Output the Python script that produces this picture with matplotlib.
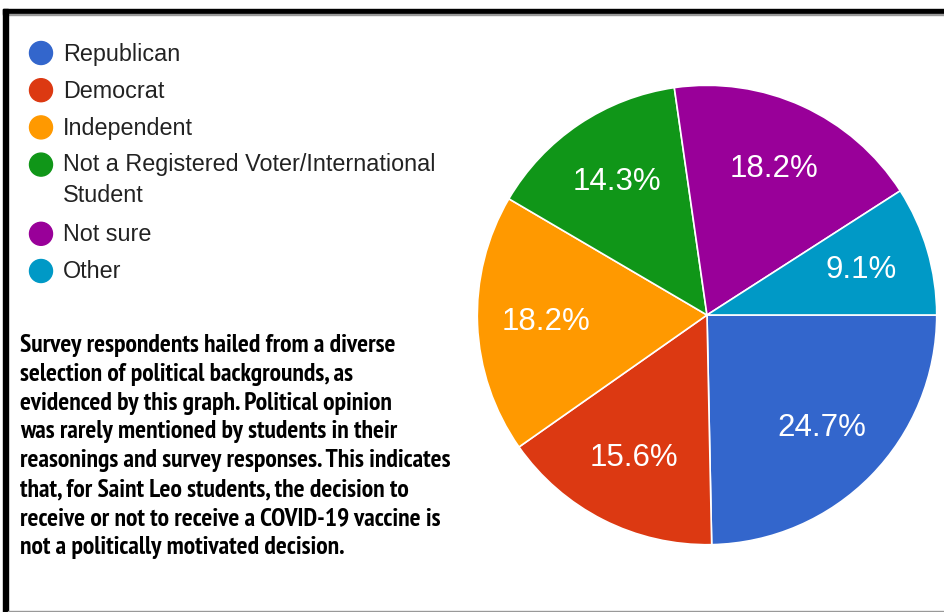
import matplotlib
matplotlib.use('Agg')
import matplotlib.pyplot as plt
from matplotlib import font_manager
from matplotlib.font_manager import FontProperties
from matplotlib.patches import Circle, Rectangle

labels = ['Republican', 'Democrat', 'Independent',
          'Not a Registered Voter/International\nStudent', 'Not sure', 'Other']
shares = [24.7, 15.6, 18.2, 14.3, 18.2, 9.1]
colors = ['#3366cc', '#dc3912', '#ff9900', '#109618', '#990099', '#0099c6']

caption_lines = [
    "Survey respondents hailed from a diverse",
    "selection of political backgrounds, as",
    "evidenced by this graph. Political opinion",
    "was rarely mentioned by students in their",
    "reasonings and survey responses. This indicates",
    "that, for Saint Leo students, the decision to",
    "receive or not to receive a COVID-19 vaccine is",
    "not a politically motivated decision.",
]

W, H = 944, 612
fig = plt.figure(figsize=(W / 100, H / 100), dpi=100)
sans = ['Liberation Sans', 'DejaVu Sans']


def px(x, y):
    # pixel (from top-left) to figure fraction
    return x / W, 1 - y / H


# pick a condensed bold face for the caption if one is installed
def narrow_bold():
    best = None
    for f in font_manager.fontManager.ttflist:
        bold = f.weight in ('bold', 700, 'heavy', 800, 'semibold', 600) or 'Bold' in f.fname
        if not bold or 'Oblique' in f.fname or 'Italic' in f.fname:
            continue
        if 'Narrow' in f.name or 'Narrow' in f.fname:
            return FontProperties(fname=f.fname)
        if f.stretch in ('condensed', 'semi-condensed') or 'Condensed' in f.fname:
            best = best or f.fname
    if best:
        return FontProperties(fname=best)
    return FontProperties(family='DejaVu Sans', weight='bold')


cap_font = narrow_bold()

# pie, centre (707, 315), radius 232 px
cx, cy, r = 707, 315, 232
ax = fig.add_axes([(cx - r) / W, (H - cy - r) / H, 2 * r / W, 2 * r / H])
wedges, texts, autotexts = ax.pie(
    shares, colors=colors, startangle=0, counterclock=False,
    autopct='%.1f%%', pctdistance=0.70, radius=1,
    wedgeprops=dict(edgecolor='white', linewidth=1.2),
    textprops=dict(color='white', fontsize=22.5, family=sans))
ax.set_xlim(-1.01, 1.01)
ax.set_ylim(-1.01, 1.01)
ax.set_aspect('equal')
ax.axis('off')

# legend
y = 53
for lab, col in zip(labels, colors):
    fig.add_artist(Circle((41, H - y), 11.5, color=col, transform=None))
    if '\n' in lab:
        fig.text(*px(63, y - 12), lab, fontsize=16.8, color='#222222', va='top',
                 family=sans, linespacing=1.45)
        y += 32
    else:
        fig.text(*px(63, y + 1), lab, fontsize=16.8, color='#222222', va='center', family=sans)
    y += 37.2

# caption, one text per line, widest line fitted to ~432 px
renderer = fig.canvas.get_renderer()
cap_texts = []
for i, line in enumerate(caption_lines):
    t = fig.text(*px(20, 352 + 28.8 * i), line, fontproperties=cap_font, fontsize=15,
                 color='black', va='baseline', ha='left')
    cap_texts.append(t)
widest = max(t.get_window_extent(renderer).width for t in cap_texts)
scale = 432 / widest
for t in cap_texts:
    t.set_fontsize(15 * scale)

# border
fig.add_artist(Rectangle((3 / W, 1 - 14 / H), 1, 5 / H, color='black', transform=fig.transFigure))
fig.add_artist(Rectangle((3 / W, 1 - 15 / H), 1, 1 / H, color='#999999', transform=fig.transFigure))
fig.add_artist(Rectangle((3 / W, 0), 5 / W, 1 - 9 / H, color='black', transform=fig.transFigure))
fig.add_artist(Rectangle((8 / W, 0), 1, 1.5 / H, color='#999999', transform=fig.transFigure))

fig.savefig('out.png', dpi=100)
